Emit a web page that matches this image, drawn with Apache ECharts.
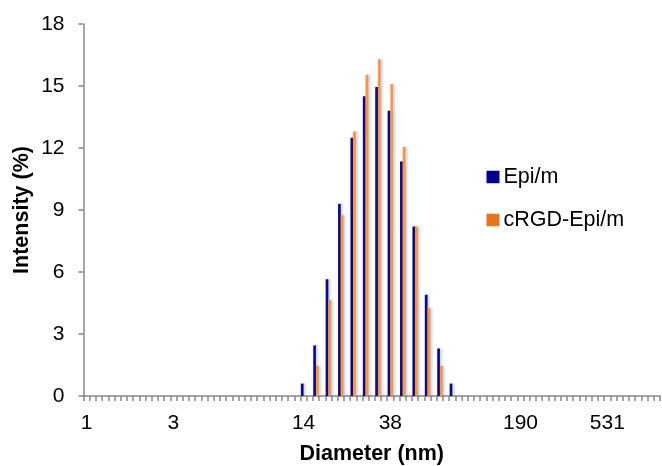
<!DOCTYPE html>
<html>
<head>
<meta charset="utf-8">
<script src="https://cdn.jsdelivr.net/npm/echarts@6/dist/echarts.min.js"></script>
<style>
  html, body { margin: 0; padding: 0; background: #fff; }
  #chart { width: 662px; height: 466px; }
</style>
</head>
<body>
<div id="chart"></div>
<script>
// 分类轴：共93个分类，只在部分位置显示标签
const categoryCount = 93;
const labelIndex = [0, 14, 35, 49, 70, 84];
const labelText = ['1', '3', '14', '38', '190', '531'];

// 柱子所在的分类位置（每隔一个分类一根）
const barIndex = [35, 37, 39, 41, 43, 45, 47, 49, 51, 53, 55, 57, 59];
const epiValues = [0.6, 2.45, 5.65, 9.3, 12.5, 14.5, 14.95, 13.8, 11.35, 8.2, 4.9, 2.3, 0.6];
const rgdValues = [0, 1.45, 4.65, 8.75, 12.8, 15.55, 16.3, 15.1, 12.05, 8.2, 4.25, 1.45, 0];

const categories = Array.from({ length: categoryCount }, (_, i) => {
    const k = labelIndex.indexOf(i);
    return k >= 0 ? labelText[k] : ' '.repeat(i + 1);
});

function fillSeries(values) {
    const arr = new Array(categoryCount).fill('-');
    barIndex.forEach((idx, i) => {
        if (values[i] > 0) arr[idx] = values[i];
    });
    return arr;
}

const chart = echarts.init(document.getElementById('chart'));
const font = 'Liberation Sans, Arial, Helvetica, sans-serif';

const option = {
    animation: false,
    grid: { left: 83.5, right: 2, top: 24, bottom: 70, containLabel: false, outerBoundsMode: 'none' },
    legend: {
        orient: 'vertical',
        left: 486.5,
        top: 166,
        padding: 0,
        itemWidth: 13,
        itemHeight: 12.5,
        itemGap: 21,
        icon: 'rect',
        textStyle: { fontFamily: font, fontSize: 21.5, color: '#000', padding: [0, 0, 0, -1] },
        data: [
            { name: 'Epi/m', itemStyle: { color: '#00008f' } },
            { name: 'cRGD-Epi/m', itemStyle: { color: '#e8731e' } }
        ]
    },
    xAxis: {
        type: 'category',
        data: categories,
        name: 'Diameter (nm)',
        nameLocation: 'middle',
        nameGap: 47,
        nameMoveOverlap: false,
        nameTextStyle: { fontFamily: font, fontSize: 21.5, fontWeight: 'bold', color: '#000' },
        axisLine: { lineStyle: { color: '#888', width: 1.5 } },
        axisTick: { show: true, interval: 0, length: 5, lineStyle: { color: '#888', width: 1.5 } },
        axisLabel: {
            interval: 0,
            margin: 17,
            fontFamily: font,
            fontSize: 21,
            color: '#000',
            formatter: v => v.trim()
        },
        splitLine: { show: false }
    },
    yAxis: {
        type: 'value',
        min: 0,
        max: 18,
        interval: 3,
        name: 'Intensity (%)',
        nameLocation: 'middle',
        nameGap: 50,
        nameMoveOverlap: false,
        nameTextStyle: { fontFamily: font, fontSize: 21.5, fontWeight: 'bold', color: '#000' },
        axisLine: { show: true, lineStyle: { color: '#888', width: 1.5 } },
        axisTick: { show: true, length: 5, lineStyle: { color: '#888', width: 1.5 } },
        axisLabel: { margin: 19, fontFamily: font, fontSize: 21, color: '#000' },
        splitLine: { show: false }
    },
    series: [
        {
            name: 'Epi/m',
            type: 'bar',
            data: fillSeries(epiValues),
            barWidth: 2.7,
            barGap: '0%',
            itemStyle: {
                color: '#0a0a8c',
                shadowColor: 'rgba(0,0,0,0.25)',
                shadowBlur: 3,
                shadowOffsetX: 1.5
            }
        },
        {
            name: 'cRGD-Epi/m',
            type: 'bar',
            data: fillSeries(rgdValues),
            barWidth: 2.7,
            barGap: '0%',
            itemStyle: {
                color: '#f5964a',
                shadowColor: 'rgba(0,0,0,0.25)',
                shadowBlur: 3,
                shadowOffsetX: 1.5
            }
        }
    ]
};

chart.setOption(option);
</script>
</body>
</html>
